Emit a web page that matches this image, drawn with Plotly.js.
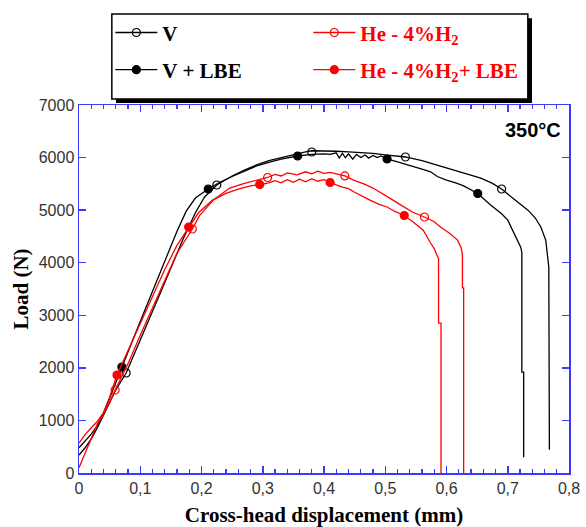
<!DOCTYPE html>
<html>
<head>
<meta charset="utf-8">
<script src="https://cdn.plot.ly/plotly-3.0.1.min.js"></script>
<style>html,body{margin:0;padding:0;background:#fff;}</style>
</head>
<body>
<div id="chart" style="width:586px;height:527px;"></div>
<script>
// ---- data ----
// V (black, open circles)
const vX = [0,0.01,0.02,0.03,0.04,0.05,0.06,0.077,0.09,0.11,0.13,0.15,0.17,0.19,0.205,0.225,0.25,0.27,0.29,0.31,0.33,0.35,0.37,0.38,0.40,0.42,0.44,0.46,0.48,0.50,0.533,0.56,0.60,0.63,0.656,0.675,0.69,0.71,0.733,0.745,0.754,0.762,0.767,0.768];
const vY = [340,480,650,860,1100,1350,1580,1902,2250,2800,3350,3900,4450,4950,5250,5478,5650,5760,5860,5940,6000,6060,6110,6130,6130,6120,6110,6100,6080,6050,6011,5940,5800,5700,5610,5510,5402,5210,5000,4850,4680,4430,3920,440];
// V + LBE (black, filled circles)
const vlX = [0,0.01,0.02,0.03,0.04,0.05,0.06,0.070,0.085,0.10,0.12,0.14,0.16,0.175,0.19,0.211,0.23,0.25,0.27,0.29,0.31,0.33,0.357,0.38,0.40,0.41,0.42,0.425,0.43,0.435,0.44,0.447,0.453,0.46,0.467,0.473,0.48,0.487,0.493,0.503,0.52,0.546,0.56,0.574,0.585,0.60,0.615,0.628,0.651,0.672,0.69,0.70,0.716,0.721,0.723,0.723,0.726,0.726];
const vlY = [480,600,740,900,1140,1420,1720,2016,2450,2880,3460,4040,4600,4980,5230,5402,5530,5640,5740,5840,5910,5970,6030,6060,6070,6060,6090,5990,6080,6000,6070,5970,6060,6000,6050,5990,6040,6000,6030,5973,5920,5820,5780,5730,5640,5570,5520,5460,5317,5100,4930,4810,4430,4300,4200,1920,1920,300];
// He - 4%H2 (red, open circles)
const heX = [0,0.01,0.02,0.03,0.04,0.05,0.059,0.08,0.10,0.12,0.14,0.16,0.185,0.197,0.22,0.246,0.27,0.29,0.308,0.32,0.33,0.34,0.356,0.37,0.38,0.39,0.40,0.41,0.42,0.434,0.45,0.465,0.48,0.492,0.51,0.525,0.545,0.564,0.58,0.59,0.605,0.618,0.624,0.626,0.626,0.628,0.628];
const heY = [100,380,660,930,1120,1340,1579,2080,2620,3150,3680,4180,4641,4900,5200,5420,5510,5570,5621,5680,5650,5710,5670,5730,5690,5740,5700,5720,5690,5650,5560,5500,5420,5330,5210,5100,4960,4870,4780,4680,4560,4430,4280,4150,3520,3520,0];
// He - 4%H2 + LBE (red, filled circles)
const heLX = [0,0.01,0.02,0.03,0.04,0.05,0.062,0.08,0.10,0.12,0.14,0.16,0.179,0.195,0.218,0.24,0.26,0.28,0.295,0.31,0.32,0.33,0.34,0.35,0.36,0.37,0.38,0.39,0.40,0.41,0.42,0.43,0.44,0.45,0.464,0.475,0.49,0.503,0.515,0.531,0.545,0.562,0.574,0.58,0.584,0.587,0.587,0.591,0.591];
const heLY = [570,730,860,980,1150,1440,1864,2330,2850,3350,3870,4330,4679,4950,5190,5320,5400,5460,5488,5520,5560,5520,5580,5530,5590,5540,5600,5550,5580,5526,5480,5440,5410,5340,5250,5190,5110,5060,4980,4898,4780,4620,4375,4270,4150,4080,2850,2850,0];

// marker positions
const vMX = [0.077,0.225,0.380,0.533,0.690];
const vMY = [1902,5478,6106,6011,5402];
const vlMX = [0.070,0.211,0.357,0.503,0.651];
const vlMY = [2016,5402,6030,5973,5317];
const heMX = [0.059,0.185,0.308,0.434,0.564];
const heMY = [1579,4641,5621,5650,4870];
const heLMX = [0.062,0.179,0.295,0.410,0.531];
const heLMY = [1864,4679,5488,5526,4898];

const seriesNames = ['V', 'V + LBE', 'He - 4%H<sub>2</sub>', 'He - 4%H<sub>2</sub>+ LBE'];
const xTickVals = [0,0.1,0.2,0.3,0.4,0.5,0.6,0.7,0.8];
const xTickText = ['0','0,1','0,2','0,3','0,4','0,5','0,6','0,7','0,8'];
const yTickVals = [0,1000,2000,3000,4000,5000,6000,7000];
const yTickText = ['0','1000','2000','3000','4000','5000','6000','7000'];
const tempLabel = '350°C';

// ---- styling ----
const BLACK = '#000000', RED = '#ff0000', BLUE = '#3a3aff';
const LW = 1.3, MS = 8;

function lineTrace(x, y, color) {
  return {x, y, type: 'scatter', mode: 'lines', line: {color, width: LW}, showlegend: false, hoverinfo: 'skip'};
}
function markTrace(x, y, color, open) {
  return {x, y, type: 'scatter', mode: 'markers', showlegend: false, hoverinfo: 'skip',
    marker: {symbol: open ? 'circle-open' : 'circle', size: MS, color, line: {color, width: 1.2}}};
}
function legTrace(name, color, open, legend) {
  return {x: [null], y: [null], type: 'scatter', mode: 'lines+markers', name, legend,
    line: {color, width: LW},
    marker: {symbol: open ? 'circle-open' : 'circle', size: MS, color, line: {color, width: 1.2}}};
}

const data = [
  lineTrace(vX, vY, BLACK), markTrace(vMX, vMY, BLACK, true),
  lineTrace(vlX, vlY, BLACK), markTrace(vlMX, vlMY, BLACK, false),
  lineTrace(heX, heY, RED), markTrace(heMX, heMY, RED, true),
  lineTrace(heLX, heLY, RED), markTrace(heLMX, heLMY, RED, false),
  legTrace(seriesNames[0], BLACK, true, 'legend'),
  legTrace(seriesNames[1], BLACK, false, 'legend2'),
  legTrace(seriesNames[2], RED, true, 'legend3'),
  legTrace(seriesNames[3], RED, false, 'legend4')
];

const tickFont = {family: '"Liberation Sans", Arial, sans-serif', size: 16, color: '#333333'};
const titleFont = {family: '"Liberation Serif", "Times New Roman", serif', size: 21, weight: 'bold', color: '#000'};

function legendCfg(x, y, color) {
  return {x, y, xanchor: 'left', yanchor: 'middle', bgcolor: 'rgba(0,0,0,0)', borderwidth: 0,
    itemwidth: 42, itemclick: false, itemdoubleclick: false,
    font: {family: '"Liberation Serif", "Times New Roman", serif', size: 21, weight: 'bold', color}};
}

const axisCommon = {
  showline: true, linecolor: BLUE, linewidth: 1.5, mirror: 'allticks',
  ticks: 'inside', ticklen: 7, tickwidth: 1.5, tickcolor: BLUE,
  showgrid: false, zeroline: false, tickfont: tickFont, fixedrange: true
};

const layout = {
  width: 586, height: 527,
  margin: {l: 79, r: 17, t: 105, b: 54},
  paper_bgcolor: '#ffffff', plot_bgcolor: '#ffffff',
  showlegend: true,
  xaxis: Object.assign({}, axisCommon, {
    range: [0, 0.8], tickmode: 'array', tickvals: xTickVals, ticktext: xTickText,
    minor: {dtick: 0.02, tick0: 0, ticks: 'inside', ticklen: 4, tickwidth: 1.2, tickcolor: BLUE},
    title: {text: 'Cross-head displacement (mm)', font: titleFont, standoff: 12}
  }),
  yaxis: Object.assign({}, axisCommon, {
    range: [0, 7000], tickmode: 'array', tickvals: yTickVals, ticktext: yTickText,
    title: {text: 'Load (N)', font: titleFont, standoff: 4}
  }),
  legend: legendCfg(0.064, 1.196, BLACK),
  legend2: legendCfg(0.064, 1.095, BLACK),
  legend3: legendCfg(0.468, 1.196, RED),
  legend4: legendCfg(0.468, 1.095, RED),
  shapes: [
    {type: 'rect', xref: 'paper', yref: 'paper', x0: 0.0755, x1: 0.9245, y0: 1.0054, y1: 1.236,
     fillcolor: '#000', line: {width: 0}, layer: 'above'},
    {type: 'rect', xref: 'paper', yref: 'paper', x0: 0.067, x1: 0.916, y0: 1.016, y1: 1.247,
     fillcolor: '#fff', line: {color: '#000', width: 1.5}, layer: 'above'}
  ],
  annotations: [
    {text: tempLabel, xref: 'paper', yref: 'paper', x: 0.988, y: 0.932, xanchor: 'right', yanchor: 'middle',
     showarrow: false, font: {family: '"Liberation Sans", Arial, sans-serif', size: 20, weight: 'bold', color: '#000'}}
  ]
};

Plotly.newPlot('chart', data, layout, {displayModeBar: false, staticPlot: true});
</script>
</body>
</html>
